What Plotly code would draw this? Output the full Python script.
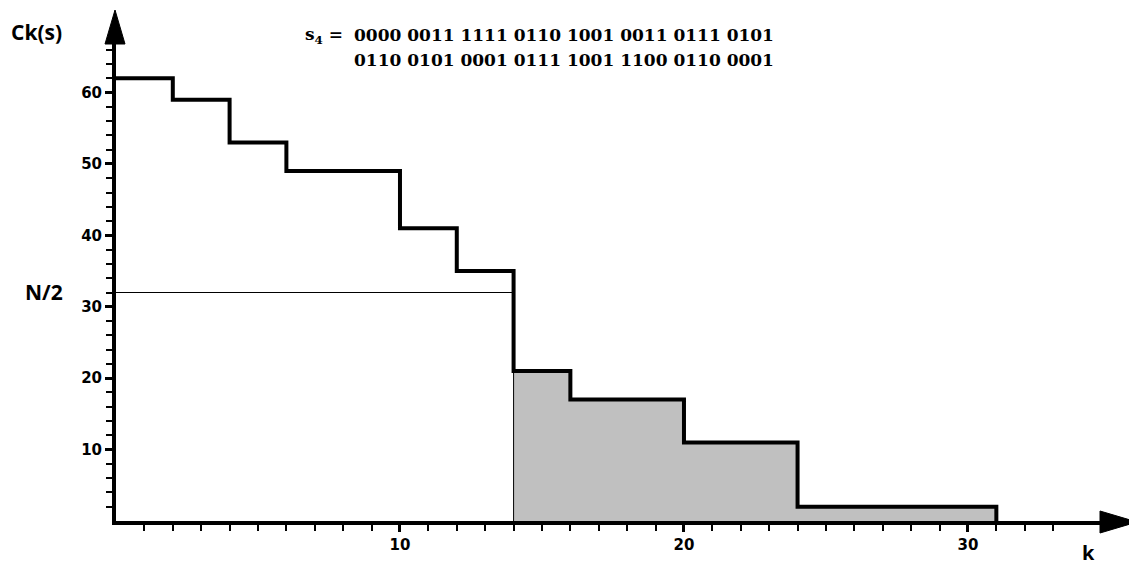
import plotly.graph_objects as go

# ---- data ----
step_k = [0, 2, 4, 6, 10, 12, 14, 16, 20, 24, 31]          # step boundaries (k)
step_c = [62, 59, 53, 49, 41, 35, 21, 17, 11, 2]            # Ck(s) level on each interval
half_n = 32                                                 # N/2 with N = 64
shade_from = 14                                             # first k with Ck(s) < N/2
x_major = [10, 20, 30]
x_minor = [k for k in range(1, 34) if k % 10]
y_major = [10, 20, 30, 40, 50, 60]
y_minor = [v for v in range(2, 67, 2) if v % 10]
seq_line1 = "0000 0011 1111 0110 1001 0011 0111 0101"
seq_line2 = "0110 0101 0001 0111 1001 1100 0110 0001"

# ---- geometry (pixels, page coords; the page body adds an 8px margin) ----
OFF = 8
W, H = 1137 - OFF, 567 - OFF
L, R, T, B = 116 - OFF, 1100 - OFF, 44 - OFF, 521 - OFF
X_MAX = 34.65
Y_MAX = 66.8

def px(xp):
    return (xp - OFF - L) / (R - L)

def py(yp):
    return (B - (yp - OFF)) / (B - T)

# step curve points
sx = list(step_k)
sy = list(step_c) + [step_c[-1]]
sx.append(step_k[-1])
sy.append(0)

# shaded region (k >= shade_from)
i0 = step_k.index(shade_from)
fx = step_k[i0:]
fy = step_c[i0:] + [step_c[-1]]

fig = go.Figure()
fig.add_trace(go.Scatter(x=fx, y=fy, mode="lines", line=dict(shape="hv", width=0),
                         fill="tozeroy", fillcolor="#c0c0c0", hoverinfo="skip"))
fig.add_trace(go.Scatter(x=[shade_from, shade_from], y=[0, step_c[i0]], mode="lines",
                         line=dict(color="black", width=1)))
fig.add_trace(go.Scatter(x=[0, shade_from], y=[half_n, half_n], mode="lines",
                         line=dict(color="black", width=1)))
fig.add_trace(go.Scatter(x=sx, y=sy, mode="lines",
                         line=dict(shape="hv", color="black", width=4)))

tickfont = dict(family="DejaVu Sans", size=15, color="black", weight="bold")
fig.update_xaxes(range=[0, X_MAX], showgrid=False, zeroline=False,
                 showline=True, linewidth=4, linecolor="black",
                 tickvals=x_major, ticks="outside", ticklen=7, tickwidth=3, tickcolor="black",
                 tickfont=tickfont,
                 minor=dict(tickvals=x_minor, ticks="outside", ticklen=6, tickwidth=1.5,
                            tickcolor="black", showgrid=False))
fig.update_yaxes(range=[0, Y_MAX], showgrid=False, zeroline=False,
                 showline=True, linewidth=4, linecolor="black",
                 tickvals=y_major, ticks="outside", ticklen=7, tickwidth=3, tickcolor="black",
                 tickfont=tickfont,
                 minor=dict(tickvals=y_minor, ticks="outside", ticklen=6, tickwidth=1.5,
                            tickcolor="black", showgrid=False))

# arrowheads
fig.add_shape(type="path", xref="paper", yref="paper", xsizemode="pixel", ysizemode="pixel",
              xanchor=1, yanchor=0, path="M 0,10 L 37,-1 L 0,-12 Z",
              fillcolor="black", line=dict(color="black", width=1))
fig.add_shape(type="path", xref="paper", yref="paper", xsizemode="pixel", ysizemode="pixel",
              xanchor=0, yanchor=1, path="M -11,0 L -1,34 L 9,0 Z",
              fillcolor="black", line=dict(color="black", width=1))

labfont = dict(family="Open Sans", size=21, color="black", weight="bold")
fig.add_annotation(text="Ck(s)", x=px(36), y=py(32), xref="paper", yref="paper",
                   showarrow=False, font=labfont, xanchor="center", yanchor="middle")
fig.add_annotation(text="N/2", x=px(44), y=py(292), xref="paper", yref="paper",
                   showarrow=False, font=labfont, xanchor="center", yanchor="middle")
fig.add_annotation(text="k", x=px(1088), y=py(552), xref="paper", yref="paper",
                   showarrow=False, font=dict(family="Open Sans", size=20, color="black",
                                              weight="bold"),
                   xanchor="center", yanchor="middle", borderpad=0)

seqfont = dict(family="DejaVu Serif", size=17, color="black", weight="bold")
fig.add_annotation(text="s<sub>4</sub> =", x=px(345), y=py(35), xref="paper", yref="paper",
                   showarrow=False, font=seqfont, xanchor="right", yanchor="middle")
fig.add_annotation(text=seq_line1, x=px(352), y=py(35), xref="paper", yref="paper",
                   showarrow=False, font=seqfont, xanchor="left", yanchor="middle")
fig.add_annotation(text=seq_line2, x=px(352), y=py(60), xref="paper", yref="paper",
                   showarrow=False, font=seqfont, xanchor="left", yanchor="middle")

fig.update_layout(width=W, height=H, showlegend=False,
                  margin=dict(l=L, r=W - R, t=T, b=H - B, pad=0),
                  plot_bgcolor="white", paper_bgcolor="white")

fig.write_html("out.html")
